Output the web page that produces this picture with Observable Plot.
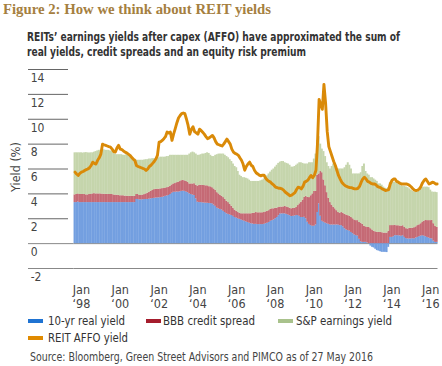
<!DOCTYPE html>
<html>
<head>
<meta charset="utf-8">
<script src="https://cdn.jsdelivr.net/npm/d3@7"></script>
<script src="https://cdn.jsdelivr.net/npm/@observablehq/plot@0.6"></script>
<style>
  html, body { margin: 0; padding: 0; background: #fff; }
  body { width: 442px; height: 366px; position: relative; overflow: hidden;
         font-family: "DejaVu Sans Condensed", "DejaVu Sans", sans-serif; }
  .abs { position: absolute; white-space: nowrap; }
  .fit { transform-origin: 0 50%; }
  #title { left: 3px; top: 0px; font-family: "Liberation Serif", "DejaVu Serif", serif; font-weight: bold;
           font-size: 15px; line-height: 18px; color: #a5803f; }
  .sub { left: 27px; font-weight: bold; font-size: 12px; line-height: 15px; color: #333; }
  #ylabel { left: 15px; top: 167px; transform: translate(-50%, -50%) rotate(-90deg); font-size: 12.5px; color: #444; }
  #chart { left: 0; top: 58px; }
  .leg { font-size: 12.5px; color: #333; line-height: 14px; }
  .sw { position: absolute; width: 15px; height: 4px; }
  #source { left: 30px; top: 350px; font-size: 11.5px; color: #444; line-height: 14px; }
</style>
</head>
<body>
<div id="title" class="abs fit" data-w="268">Figure 2: How we think about REIT yields</div>
<div class="abs sub fit" style="top:30px" data-w="373">REITs’ earnings yields after capex (AFFO) have approximated the sum of</div>
<div class="abs sub fit" style="top:45px" data-w="279">real yields, credit spreads and an equity risk premium</div>
<div id="chart" class="abs"></div>
<div id="ylabel" class="abs">Yield (%)</div>
<div class="sw" style="left:28px; top:319px; background:#1f73d2"></div>
<div class="abs leg fit" style="left:48px; top:314px;" data-w="77">10-yr real yield</div>
<div class="sw" style="left:146px; top:319px; background:#a51d2d"></div>
<div class="abs leg fit" style="left:163px; top:314px;" data-w="92">BBB credit spread</div>
<div class="sw" style="left:278px; top:319px; background:#a9c28c"></div>
<div class="abs leg fit" style="left:296px; top:314px;" data-w="96">S&amp;P earnings yield</div>
<div class="sw" style="left:28px; top:336px; background:#e08a00"></div>
<div class="abs leg fit" style="left:48px; top:331px;" data-w="80">REIT AFFO yield</div>
<div id="source" class="abs fit" data-w="343">Source: Bloomberg, Green Street Advisors and PIMCO as of 27 May 2016</div>
<script>
// Monthly series, Sep 1997 – May 2016 (values in %)
const realYield = [
  3.3, 3.3, 3.35, 3.3,
  3.3, 3.3, 3.3, 3.3, 3.3, 3.3, 3.3, 3.3, 3.3, 3.3, 3.3, 3.3,
  3.3, 3.3, 3.3, 3.3, 3.3, 3.3, 3.3, 3.3, 3.3, 3.3, 3.3, 3.3,
  3.3, 3.3, 3.3, 3.3, 3.3, 3.3, 3.3, 3.3, 3.3, 3.3, 3.55, 3.55,
  3.52, 3.52, 3.53, 3.54, 3.55, 3.55, 3.58, 3.6, 3.62, 3.64, 3.66, 3.68,
  3.68, 3.7, 3.72, 3.75, 3.8, 3.83, 3.87, 3.95, 4.05, 4.13, 4.13, 4.15,
  4.15, 4.17, 4.2, 4.22, 4.2, 4.15, 4.1, 4.0, 3.95, 3.9, 3.87, 3.6,
  3.33, 3.3, 3.3, 3.28, 3.27, 3.25, 3.25, 3.23, 3.22, 3.2, 3.1, 3.0,
  2.85, 2.8, 2.75, 2.7, 2.6, 2.5, 2.4, 2.35, 2.3, 2.26, 2.2, 2.1,
  2.05, 2.0, 1.95, 1.9, 1.85, 1.8, 1.75, 1.7, 1.65, 1.6, 1.58, 1.55,
  1.55, 1.53, 1.53, 1.53, 1.53, 1.55, 1.6, 1.64, 1.7, 1.8, 1.85, 1.9,
  2.0, 2.1, 2.25, 2.39, 2.39, 2.4, 2.39, 2.35, 2.3, 2.25, 2.18, 2.2,
  2.22, 2.26, 2.26, 2.2, 2.1, 2.1, 2.12, 2.0, 1.72, 1.55, 1.45, 1.4,
  1.4, 1.5, 2.5, 3.2, 2.2, 1.8, 1.72, 1.65, 1.6, 1.55, 1.5, 1.5,
  1.5, 1.5, 1.5, 1.5, 1.45, 1.45, 1.35, 1.2, 1.1, 1.05, 1.0, 0.9,
  0.8, 0.7, 0.65, 0.6, 0.35, 0.15, 0.1, 0.1, 0.1, 0.05, 0.0, -0.2,
  -0.3, -0.35, -0.45, -0.56, -0.6, -0.65, -0.7, -0.7, -0.7, -0.72, -0.3, 0.5,
  0.5, 0.55, 0.64, 0.64, 0.64, 0.62, 0.6, 0.64, 0.5, 0.4, 0.38, 0.38,
  0.38, 0.4, 0.38, 0.45, 0.5, 0.56, 0.6, 0.64, 0.6, 0.56, 0.5, 0.45,
  0.4, 0.38, 0.2, 0.1, 0.1
];
const creditSpread = [
  0.62, 0.65, 0.65, 0.65,
  0.65, 0.65, 0.65, 0.62, 0.62, 0.65, 0.65, 0.7, 0.72, 0.7, 0.7, 0.7,
  0.7, 0.68, 0.68, 0.66, 0.66, 0.65, 0.65, 0.65, 0.62, 0.6, 0.6, 0.58,
  0.55, 0.55, 0.55, 0.52, 0.52, 0.5, 0.5, 0.5, 0.5, 0.5, 0.4, 0.4,
  0.35, 0.35, 0.38, 0.4, 0.45, 0.5, 0.55, 0.6, 0.65, 0.7, 0.7, 0.7,
  0.7, 0.7, 0.7, 0.68, 0.67, 0.67, 0.67, 0.67, 0.67, 0.67, 0.7, 0.75,
  0.78, 0.82, 0.86, 0.86, 0.85, 0.85, 0.82, 0.8, 0.85, 0.9, 0.95, 1.1,
  1.3, 1.4, 1.4, 1.4, 1.4, 1.4, 1.4, 1.35, 1.35, 1.3, 1.3, 1.3,
  1.25, 1.2, 1.15, 1.1, 1.1, 1.05, 1.0, 0.95, 0.85, 0.75, 0.65, 0.6,
  0.55, 0.5, 0.5, 0.5, 0.55, 0.6, 0.65, 0.7, 0.75, 0.8, 0.85, 0.9,
  0.95, 0.95, 0.95, 0.95, 0.95, 0.95, 0.95, 0.95, 0.95, 0.95, 0.95, 0.9,
  0.85, 0.75, 0.65, 0.55, 0.55, 0.55, 0.6, 0.6, 0.6, 0.6, 0.62, 0.63,
  0.63, 0.65, 0.8, 1.0, 1.23, 1.4, 1.6, 1.8, 2.0, 2.15, 2.4, 2.6,
  2.8, 2.7, 3.0, 2.4, 3.6, 3.9, 3.4, 3.0, 2.5, 2.1, 1.8, 1.6,
  1.43, 1.3, 1.15, 1.0, 1.0, 1.05, 1.1, 1.15, 1.2, 1.2, 1.2, 1.2,
  1.2, 1.2, 1.2, 1.25, 1.35, 1.5, 1.45, 1.3, 1.25, 1.25, 1.3, 1.2,
  1.1, 1.0, 0.95, 0.91, 0.9, 0.9, 0.88, 0.85, 0.85, 0.85, 1.0, 0.95,
  0.95, 0.9, 0.85, 0.8, 0.8, 0.8, 0.8, 0.8, 0.8, 0.8, 0.8, 0.85,
  0.85, 0.85, 0.9, 0.9, 0.95, 0.95, 1.0, 1.1, 1.2, 1.3, 1.35, 1.4,
  1.45, 1.5, 1.4, 1.3, 1.2
];
const earningsYield = [
  3.38, 3.35, 3.3, 3.35,
  3.35, 3.33, 3.35, 3.4, 3.38, 3.33, 3.35, 3.3, 3.33, 3.4, 3.45, 3.5,
  3.5, 3.52, 3.57, 3.54, 3.54, 3.55, 3.5, 3.45, 3.38, 3.3, 3.25, 3.27,
  3.3, 3.3, 3.25, 3.28, 3.33, 3.3, 3.2, 3.1, 3.0, 3.0, 2.75, 2.75,
  2.83, 2.83, 2.79, 2.78, 2.75, 2.7, 2.67, 2.6, 2.56, 2.49, 2.47, 2.52,
  2.52, 2.55, 2.53, 2.52, 2.48, 2.5, 2.46, 2.48, 2.38, 2.3, 2.27, 2.2,
  2.17, 2.11, 2.04, 2.02, 2.05, 2.1, 2.18, 2.4, 2.5, 2.56, 2.48, 2.5,
  2.47, 2.4, 2.45, 2.52, 2.53, 2.6, 2.65, 2.67, 2.53, 2.5, 2.6, 2.8,
  3.05, 3.2, 3.3, 3.4, 3.5, 3.55, 3.6, 3.6, 3.6, 3.59, 3.55, 3.5,
  3.5, 3.3, 3.05, 3.0, 2.9, 2.9, 2.85, 2.8, 2.7, 2.6, 2.57, 2.55,
  2.5, 2.52, 2.52, 2.57, 2.62, 2.7, 2.75, 2.86, 2.95, 3.0, 3.1, 3.2,
  3.3, 3.45, 3.55, 3.61, 3.66, 3.65, 3.51, 3.5, 3.5, 3.45, 3.35, 3.32,
  3.35, 3.39, 3.34, 3.3, 3.17, 2.95, 2.68, 2.6, 2.68, 2.8, 2.65, 2.5,
  2.6, 3.0, 2.8, 3.0, 2.2, 1.9, 2.28, 2.35, 2.4, 2.55, 2.7, 3.1,
  3.47, 3.4, 3.35, 3.5, 3.55, 3.5, 3.55, 3.75, 4.0, 4.25, 4.1, 3.9,
  3.6, 3.7, 3.75, 3.75, 3.9, 4.05, 4.65, 5.0, 4.45, 4.3, 4.2, 4.1,
  4.2, 4.2, 4.15, 4.09, 3.9, 3.9, 3.82, 3.7, 3.6, 3.55, 3.5, 3.45,
  3.49, 3.49, 3.45, 3.46, 3.36, 3.28, 3.25, 3.16, 3.3, 3.35, 3.32, 3.17,
  3.07, 2.95, 2.87, 2.8, 2.7, 2.69, 2.75, 2.76, 2.74, 2.68, 2.69, 2.65,
  2.45, 2.27, 2.53, 2.73, 2.8
];
const affoYield = [
  5.75, 5.6, 5.48, 5.65,
  5.75, 5.8, 5.88, 5.95, 6.0, 6.1, 6.28, 6.55, 6.45, 6.4, 6.7, 6.9,
  7.2, 8.0, 7.95, 7.9, 7.85, 7.8, 7.76, 7.6, 7.4, 7.36, 7.7, 7.9,
  7.6, 7.55, 7.45, 7.36, 7.3, 7.2, 7.1, 6.95, 6.8, 6.7, 6.28, 6.2,
  6.15, 6.1, 6.05, 6.0, 5.88, 6.0, 6.2, 6.3, 6.45, 6.6, 6.8, 7.1,
  8.16, 8.2, 8.3, 8.44, 8.6, 8.97, 8.9, 8.97, 8.3, 8.8, 9.24, 9.7,
  10.1, 10.3, 10.45, 10.5, 10.45, 10.0, 9.5, 8.8, 9.2, 9.4, 9.0, 8.9,
  8.8, 9.2, 9.1, 8.95, 8.8, 8.6, 8.44, 8.5, 8.6, 8.7, 8.5, 8.2,
  8.0, 7.95, 7.9, 7.85, 8.0, 8.2, 8.4, 8.2, 8.0, 7.6, 7.36, 7.25,
  7.2, 7.1, 6.9, 6.7, 6.4, 5.9, 6.2, 6.4, 6.55, 6.3, 6.2, 5.9,
  5.7, 5.6, 5.5, 5.45, 5.5, 5.5, 5.25, 5.1, 5.0, 4.94, 4.8, 4.7,
  4.55, 4.5, 4.45, 4.45, 4.4, 4.3, 4.15, 4.05, 3.95, 3.85, 3.9, 4.0,
  4.1, 4.35, 4.54, 4.5, 4.4, 4.6, 4.94, 5.0, 5.1, 5.3, 5.48, 5.3,
  5.5, 5.9, 8.0, 11.6, 11.2, 10.8, 12.8, 11.3, 9.0, 7.8, 7.4, 7.0,
  6.6, 6.28, 5.9, 5.48, 5.2, 4.94, 4.8, 4.67, 4.6, 4.55, 4.5, 4.5,
  4.45, 4.4, 4.4, 4.45, 4.6, 4.94, 5.2, 5.34, 5.2, 5.0, 4.94, 4.85,
  4.8, 4.8, 4.75, 4.6, 4.54, 4.5, 4.4, 4.35, 4.27, 4.3, 4.35, 4.8,
  5.08, 5.2, 5.2, 5.0, 4.94, 4.85, 4.8, 4.8, 4.8, 4.8, 4.75, 4.67,
  4.55, 4.4, 4.3, 4.27, 4.3, 4.4, 4.6, 4.9, 5.1, 5.2, 5.0, 4.8,
  4.85, 4.94, 4.9, 4.8, 4.8
];
const seriesNames = ["10-yr real yield", "BBB credit spread", "S&P earnings yield"];
const seriesColors = ["#739fe0", "#c56a75", "#c5d5ac"];
const lineColor = "#da8a08";
const xTickYears = [1998, 2000, 2002, 2004, 2006, 2008, 2010, 2012, 2014, 2016];
const yTicks = [-2, 0, 2, 4, 6, 8, 10, 12, 14];

const start = new Date(Date.UTC(1997, 8, 1));
const end = new Date(Date.UTC(2016, 5, 1));
const months = d3.utcMonths(start, end);

const bars = [];
[realYield, creditSpread, earningsYield].forEach((arr, s) => {
  months.forEach((m, i) => bars.push({date: m, value: arr[i], series: seriesNames[s]}));
});
const line = months.map((m, i) => ({date: d3.utcDay.offset(m, 15), value: affoYield[i]}));
const xTicks = xTickYears.map(y => new Date(Date.UTC(y, 0, 16)));

const font = '"DejaVu Sans Condensed", "DejaVu Sans", sans-serif';

const chart = Plot.plot({
  width: 442,
  height: 252,
  marginLeft: 73.7,
  marginRight: 4.5,
  marginTop: 11,
  marginBottom: 42,
  style: {fontFamily: font, fontSize: "12px", background: "transparent", overflow: "visible"},
  x: {type: "utc", domain: [start, end], label: null},
  y: {domain: [-2, 14], label: null},
  color: {domain: seriesNames, range: seriesColors},
  marks: [
    Plot.axisY(yTicks.filter(d => d > 0), {tickSize: 40, dx: -5.7, tickFormat: () => "", label: null, stroke: "#666", strokeOpacity: 1}),
    Plot.axisY([-2, 0], {tickSize: 45.7, tickFormat: () => "", label: null, stroke: "#888", strokeOpacity: 1}),
    Plot.axisY(yTicks, {tickSize: 0, tickPadding: 0, textAnchor: "start", dx: -43.5, dy: 8.5, label: null,
      fontSize: 12, fill: "#444", tickFormat: d => String(d)}),
    Plot.ruleY([-2, 0], {stroke: "#888"}),
    Plot.rectY(bars, {x: "date", interval: "month", y: "value", fill: "series", insetLeft: -0.15, insetRight: -0.15}),
    Plot.lineY(line, {x: "date", y: "value", stroke: lineColor, strokeWidth: 2.9, strokeLinejoin: "round"}),
    Plot.axisX(xTicks, {tickSize: 0, tickPadding: 16, fontSize: 12.5, fill: "#444", lineHeight: 1.12, label: null,
      tickFormat: d => "Jan\n‘" + String(d.getUTCFullYear()).slice(2)})
  ]
});
document.getElementById("chart").appendChild(chart);

// Fit each text block horizontally to the width it takes in the reference
document.querySelectorAll(".fit").forEach(el => {
  const w = el.getBoundingClientRect().width;
  const target = +el.dataset.w;
  if (w > 0) el.style.transform = `scaleX(${target / w})`;
});
</script>
</body>
</html>
